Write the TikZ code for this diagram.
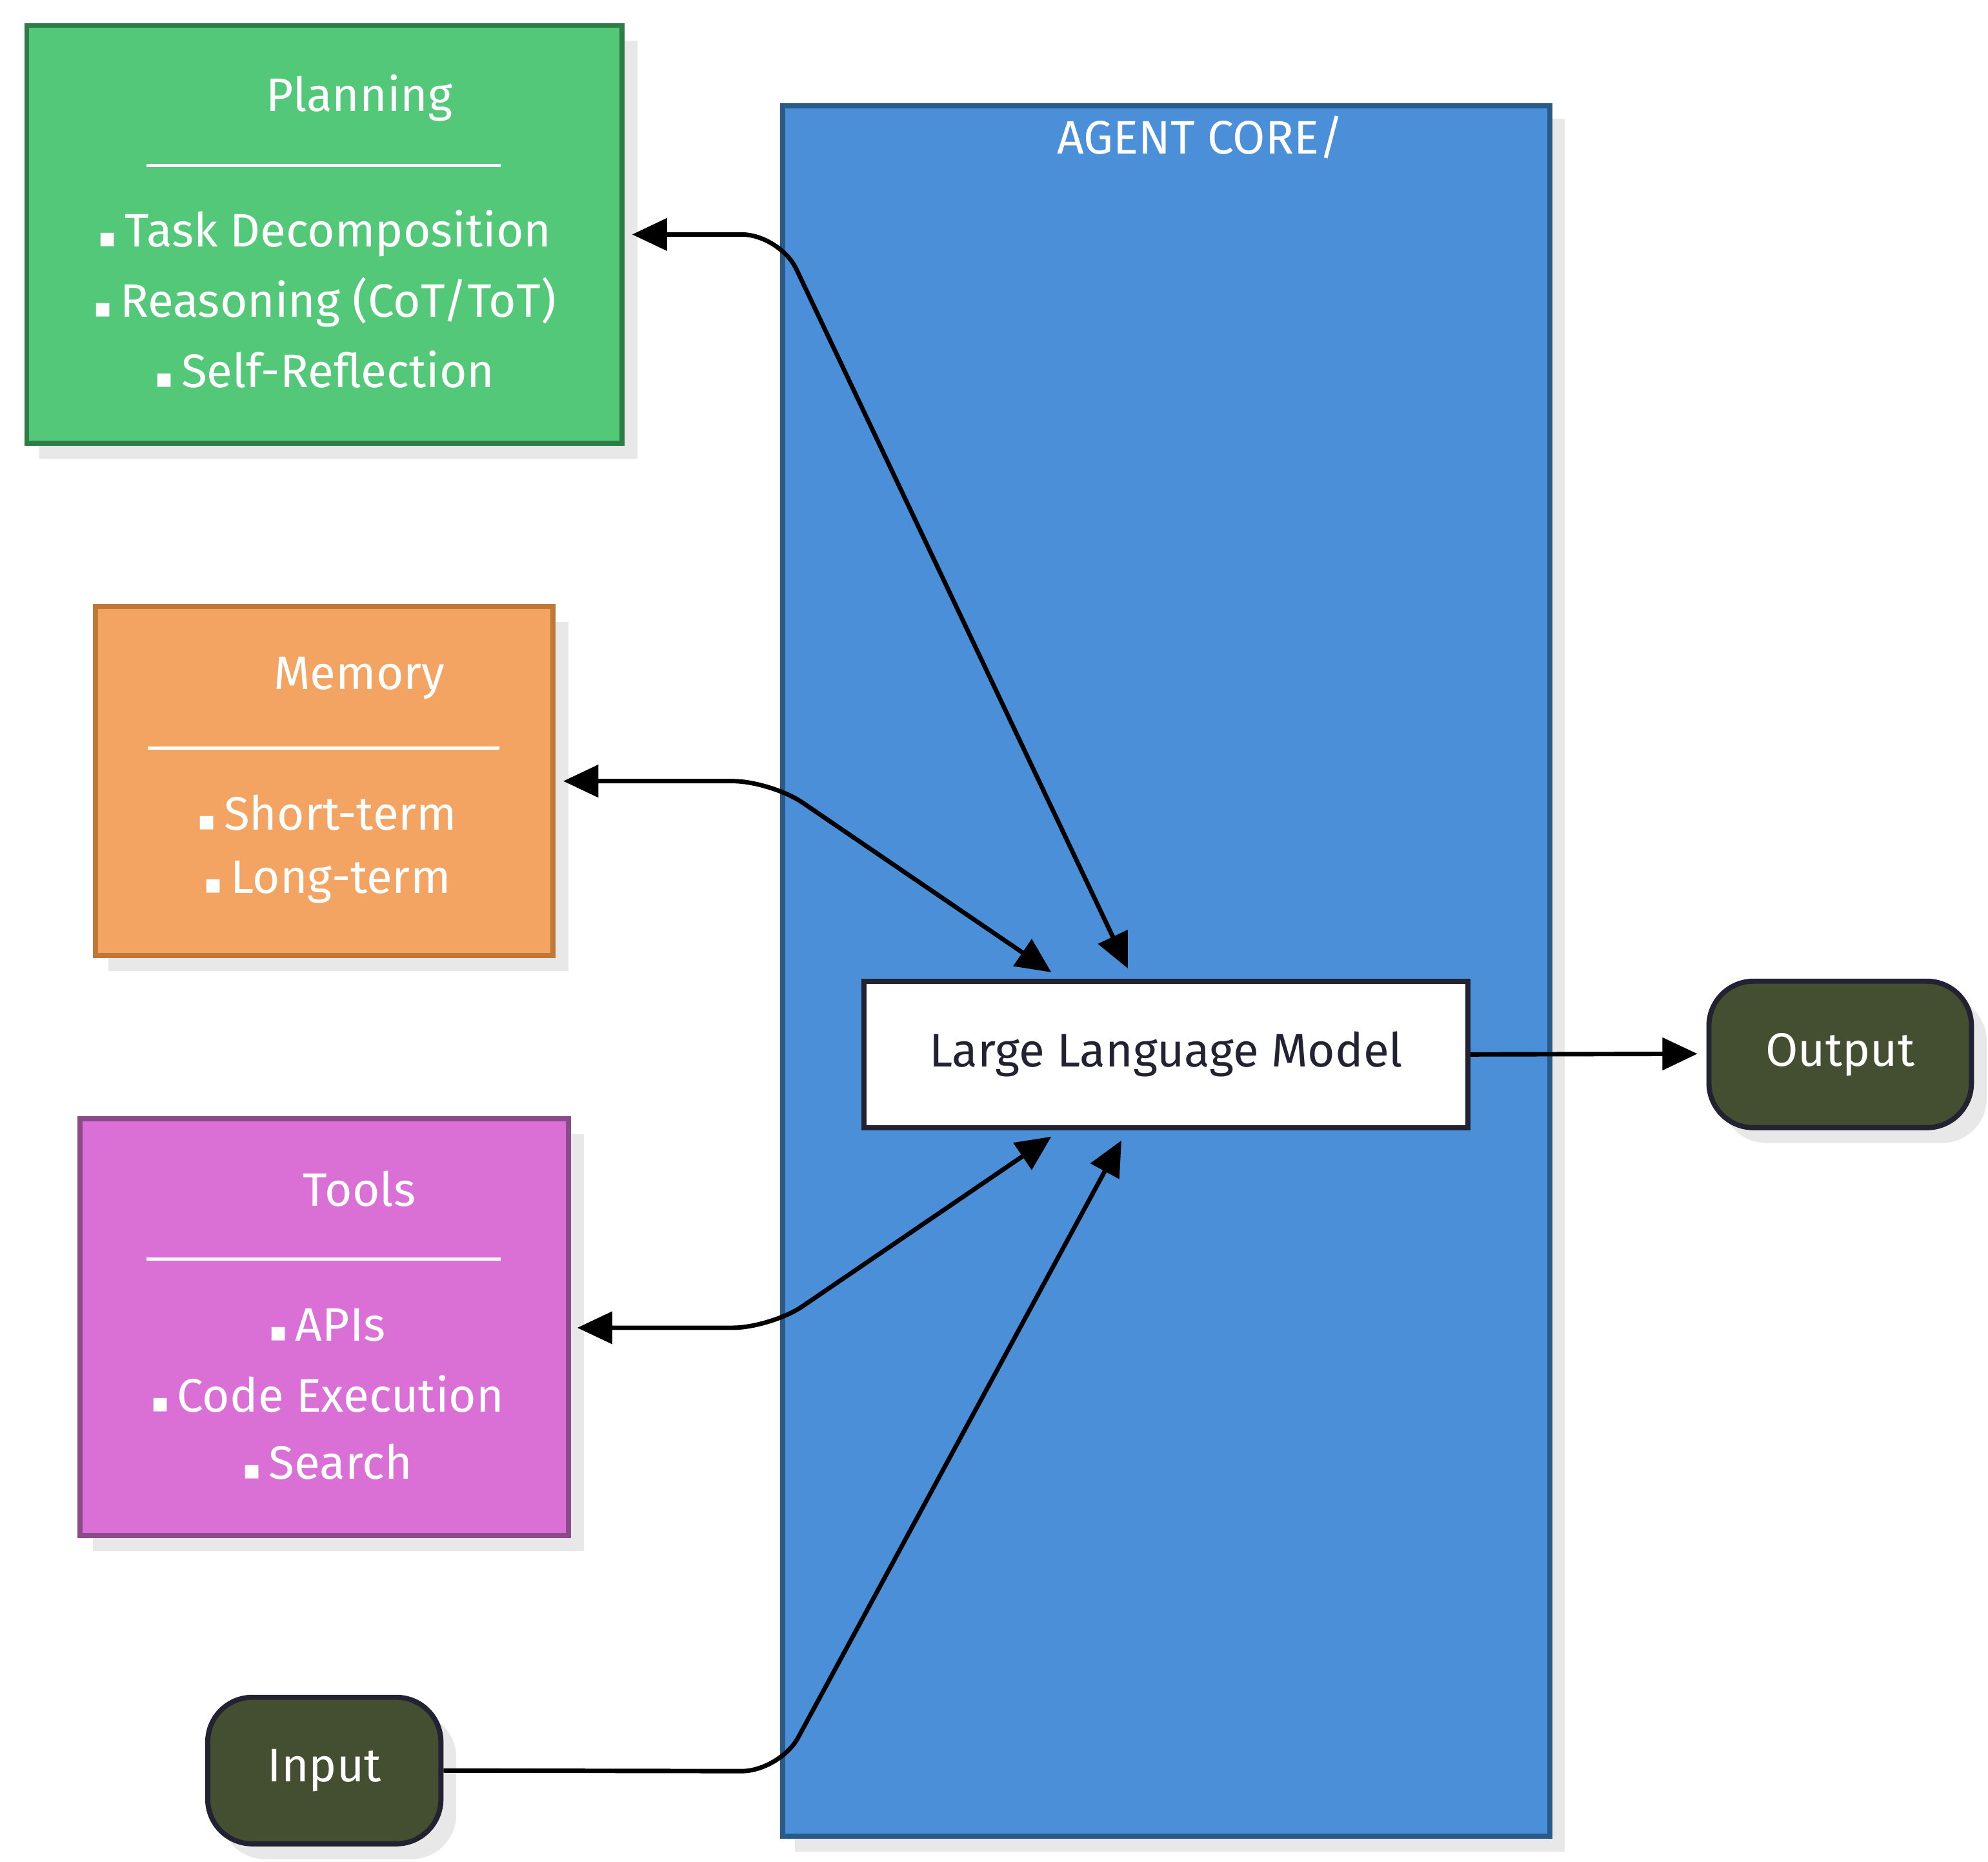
\documentclass[tikz,border=0pt]{standalone}
\usepackage{fontspec}
\setmainfont{Fira Sans}
\newfontfamily\dvs{DejaVu Sans}
\newcommand{\bul}{{\dvs\fontsize{12}{14}\selectfont ▪}\,}
\usetikzlibrary{fit,arrows.meta}
\definecolor{pg}{HTML}{52C878}\definecolor{pgb}{HTML}{2E7D45}
\definecolor{mo}{HTML}{F4A462}\definecolor{mob}{HTML}{C07838}
\definecolor{tp}{HTML}{DA70D6}\definecolor{tpb}{HTML}{8B4A8B}
\definecolor{ab}{HTML}{4A8FD8}\definecolor{abb}{HTML}{2A5A8A}
\definecolor{ol}{HTML}{434F30}\definecolor{dk}{HTML}{222233}
\definecolor{sh}{HTML}{E8E8E8}
\tikzset{
 box/.style={draw, line width=0.08cm, inner sep=0pt},
 txt/.style={font=\fontsize{21}{25}\selectfont, text=white},
 sep/.style={draw=white, line width=0.05cm},
 arr/.style={line width=0.07cm, rounded corners=0.6cm},
 tip/.style={-{Triangle[length=0.55cm,width=0.5cm]}},
 both/.style={{Triangle[length=0.55cm,width=0.5cm]}-{Triangle[length=0.55cm,width=0.5cm]}}
}
\begin{document}
\begin{tikzpicture}[x=0.02cm,y=-0.02cm]
\useasboundingbox (0,0) rectangle (1560,1461);
% shadows
\fill[sh] (31,32) rectangle (500,360);
\fill[sh] (85,488) rectangle (446,762);
\fill[sh] (73,890) rectangle (458,1217);
\fill[sh] (624,93) rectangle (1228,1453);
\fill[sh, rounded corners=0.7cm] (1351,782) rectangle (1559,897);
\fill[sh, rounded corners=0.7cm] (173,1344) rectangle (358,1459);
% agent core
\node[box, fill=ab, draw=abb, fit={(614,83)(1216,1441)}] (core) {};
\node[txt] (coret) at (942,108) {AGENT CORE/};
% planning
\node[box, fill=pg, draw=pgb, fit={(21,20)(488,348)}] (plan) {};
\node[txt] (plant) at (282,77) {Planning};
\draw[sep] (115,130) -- (393,130);
\node[txt] (p1) at (255,183) {\bul Task Decomposition};
\node[txt] (p2) at (255,237) {\bul Reasoning (CoT/ToT)};
\node[txt] (p3) at (255,290) {\bul Self-Reflection};
% memory
\node[box, fill=mo, draw=mob, fit={(75,476)(434,750)}] (mem) {};
\node[txt] (memt) at (282,532) {Memory};
\draw[sep] (116,587) -- (392,587);
\node[txt] (m1) at (257,638) {\bul Short-term};
\node[txt] (m2) at (257,692) {\bul Long-term};
% tools
\node[box, fill=tp, draw=tpb, fit={(63,878)(446,1205)}] (tools) {};
\node[txt] (toolt) at (282,933) {Tools};
\draw[sep] (115,988) -- (393,988);
\node[txt] (t1) at (257,1040) {\bul APIs};
\node[txt] (t2) at (257,1094) {\bul Code Execution};
\node[txt] (t3) at (257,1147) {\bul Search};
% llm
\node[box, fill=white, draw=dk, fit={(678,770)(1152,885)}] (llm) {};
\node[font=\fontsize{21}{25}\selectfont, text=dk] at (llm) {Large Language Model};
\node[box, fill=ol, draw=dk, rounded corners=0.7cm, fit={(1341,770)(1547,885)}] (out) {};
\node[txt] at (out) {Output};
\node[box, fill=ol, draw=dk, rounded corners=0.7cm, fit={(163,1332)(346,1447)}] (in) {};
\node[txt] at (in) {Input};
% arrow endpoints
\coordinate (pe) at (496,184); \coordinate (le1) at (885,760);
\coordinate (me) at (442,613); \coordinate (le2) at (825,763);
\coordinate (te) at (453,1042); \coordinate (le3) at (825,892);
\coordinate (le4) at (880,895); \coordinate (oe) at (1332,827);
\draw[arr,both] (pe) -- (612,184) -- (le1);
\draw[arr,both] (me) -- (605,613) -- (le2);
\draw[arr,both] (te) -- (605,1042) -- (le3);
\draw[arr,tip] (in.east) -- (612,1390) -- (le4);
\draw[line width=0.07cm,tip] (llm.east) -- (oe);
\end{tikzpicture}
\end{document}
